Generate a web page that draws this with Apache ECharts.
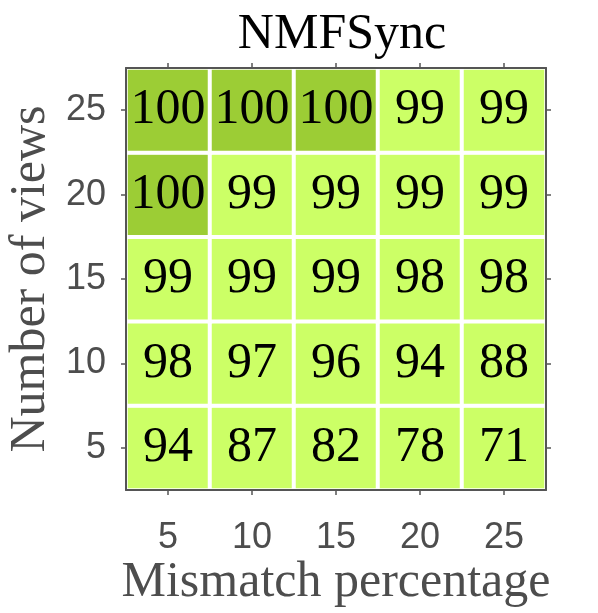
<!DOCTYPE html>
<html>
<head>
<meta charset="utf-8">
<script src="https://cdn.jsdelivr.net/npm/echarts@6/dist/echarts.min.js"></script>
<style>
  html, body { margin: 0; padding: 0; background: #fff; }
  #chart { width: 598px; height: 613px; }
</style>
</head>
<body>
<div id="chart"></div>
<script>
// mismatch percentage (x) and number of views (y)
var mismatch = ['5', '10', '15', '20', '25'];
var views = ['5', '10', '15', '20', '25'];
// accuracy, one row per number of views (bottom to top)
var row5 = [94, 87, 82, 78, 71];
var row10 = [98, 97, 96, 94, 88];
var row15 = [99, 99, 99, 98, 98];
var row20 = [100, 99, 99, 99, 99];
var row25 = [100, 100, 100, 99, 99];
var rows = [row5, row10, row15, row20, row25];

var data = [];
rows.forEach(function (r, yi) {
    r.forEach(function (v, xi) {
        data.push([xi, yi, v]);
    });
});

// faint grid lines through the cell centres, drawn under the cells
var gridLines = [];
mismatch.forEach(function (c) { gridLines.push({ xAxis: c }); });
views.forEach(function (c) { gridLines.push({ yAxis: c }); });

var chart = echarts.init(document.getElementById('chart'));

var axisColor = '#555555';
var tickFont = { color: '#4d4d4d', fontSize: 36, fontFamily: 'Liberation Sans' };
var box = { show: true, lineStyle: { color: axisColor, width: 2 } };
var ticks = { show: true, alignWithLabel: true, inside: false, length: 5, lineStyle: { color: axisColor, width: 1.5 } };
var nameFont = { fontFamily: 'Liberation Serif', fontSize: 50, color: '#4d4d4d' };

var option = {
    animation: false,
    title: {
        text: 'NMFSync',
        left: 337,
        top: 5,
        textAlign: 'center',
        textStyle: { fontFamily: 'Liberation Serif', fontWeight: 'normal', fontSize: 50, color: '#000' }
    },
    grid: { left: 126, right: 52, top: 68, bottom: 123, containLabel: false, outerBoundsMode: 'none' },
    xAxis: [{
        type: 'category',
        data: mismatch,
        position: 'bottom',
        name: 'Mismatch percentage',
        nameLocation: 'middle',
        nameGap: 68,
        nameMoveOverlap: false,
        nameTextStyle: nameFont,
        axisLine: box,
        axisTick: ticks,
        axisLabel: Object.assign({ margin: 30 }, tickFont),
        splitLine: { show: false },
        z: 5
    }, {
        type: 'category',
        data: mismatch,
        position: 'top',
        axisLine: box,
        axisTick: ticks,
        axisLabel: { show: false },
        splitLine: { show: false },
        z: 5
    }],
    yAxis: [{
        type: 'category',
        data: views,
        position: 'left',
        name: 'Number of views',
        nameLocation: 'middle',
        nameGap: 70,
        nameMoveOverlap: false,
        nameTextStyle: nameFont,
        axisLine: box,
        axisTick: ticks,
        axisLabel: Object.assign({ margin: 20 }, tickFont),
        splitLine: { show: false },
        z: 5
    }, {
        type: 'category',
        data: views,
        position: 'right',
        axisLine: box,
        axisTick: ticks,
        axisLabel: { show: false },
        splitLine: { show: false },
        z: 5
    }],
    visualMap: {
        show: false,
        type: 'piecewise',
        dimension: 2,
        seriesIndex: 0,
        pieces: [
            { gte: 99.5, color: '#9ccd35' },
            { lt: 99.5, color: '#ccff66' }
        ]
    },
    series: [{
        type: 'heatmap',
        data: data,
        z: 2,
        label: {
            show: true,
            color: '#000',
            fontFamily: 'Liberation Serif',
            fontSize: 50
        },
        itemStyle: { borderColor: '#ffffff', borderWidth: 4 },
        emphasis: { disabled: true }
    }, {
        type: 'line',
        data: [],
        z: 1,
        silent: true,
        markLine: {
            silent: true,
            z: 1,
            symbol: 'none',
            label: { show: false },
            lineStyle: { color: '#e3e3e3', width: 2, type: 'solid' },
            data: gridLines
        }
    }]
};

chart.setOption(option);
</script>
</body>
</html>
